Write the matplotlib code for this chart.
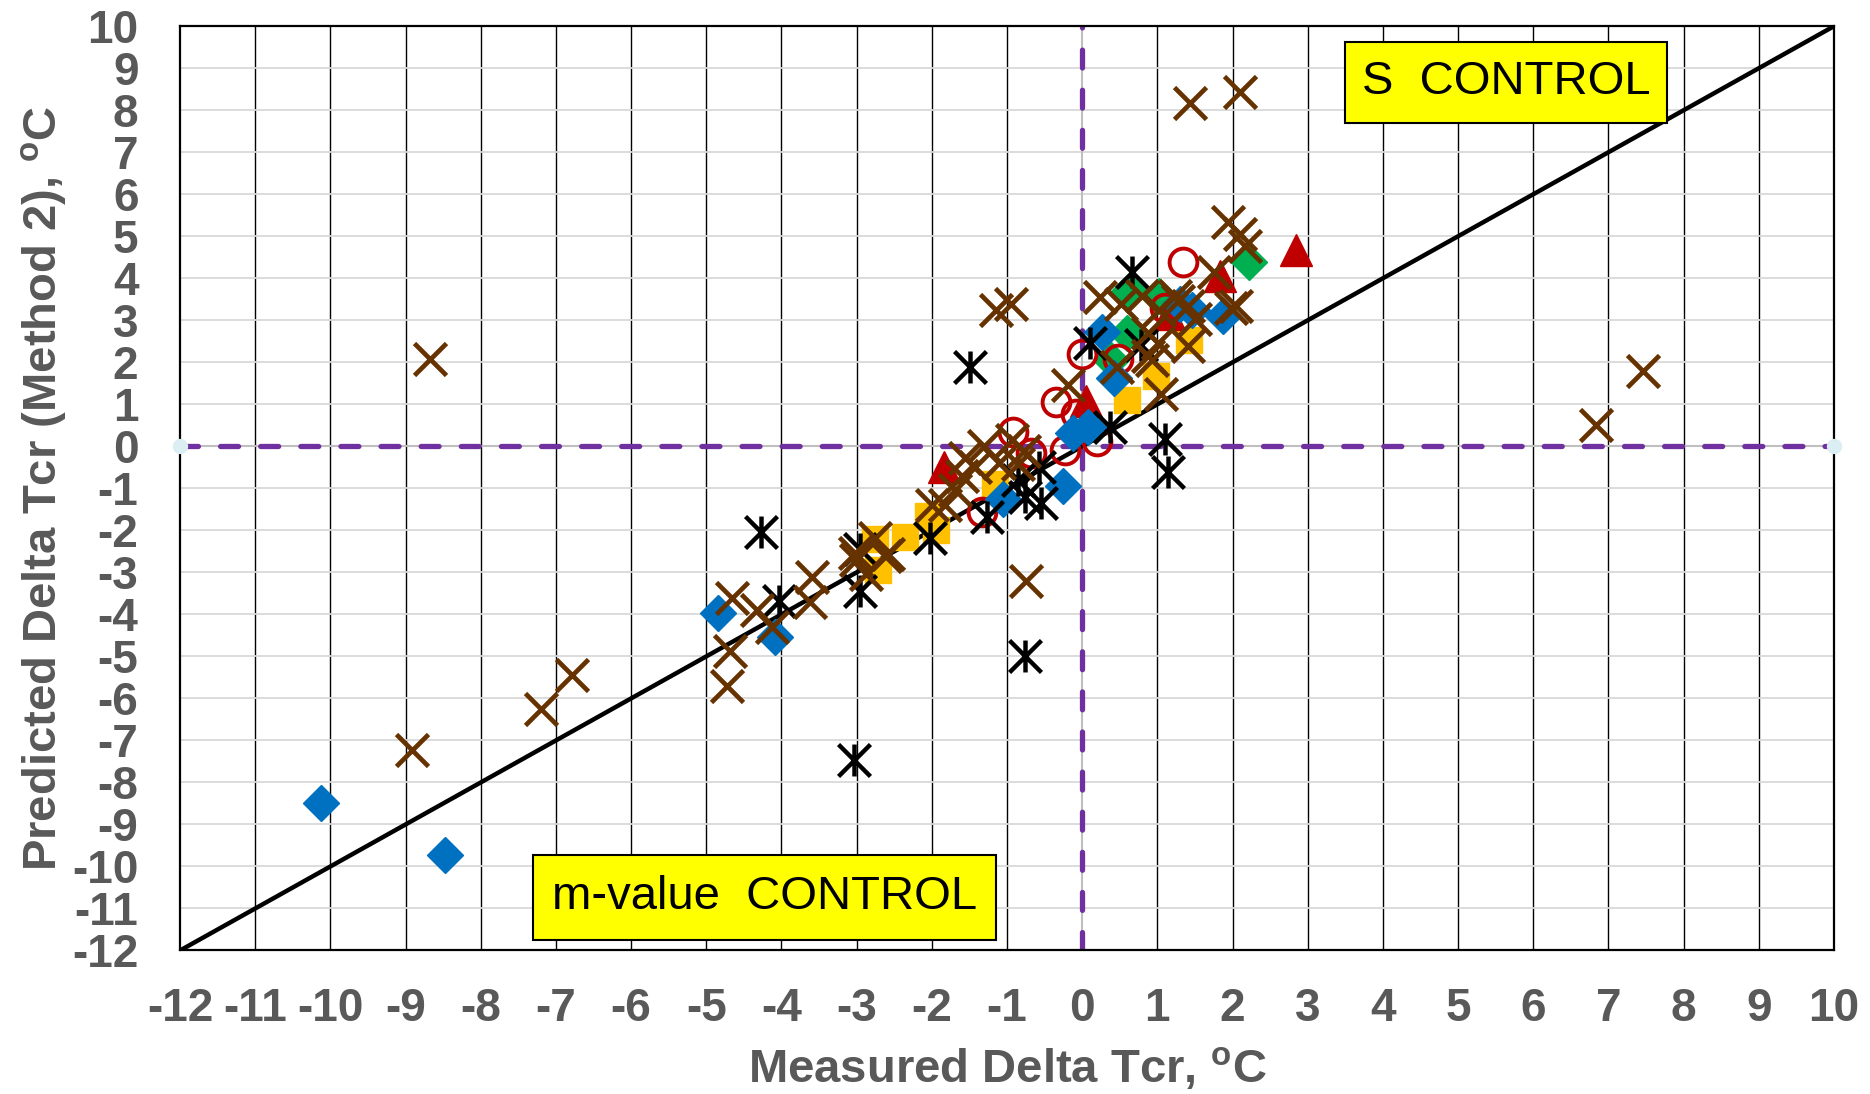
import numpy as np
import matplotlib.pyplot as plt
from matplotlib.path import Path
from matplotlib.patches import Rectangle

plt.rcParams['font.family'] = ['Liberation Sans', 'DejaVu Sans']
plt.rcParams['mathtext.default'] = 'regular'
plt.rcParams['axes.unicode_minus'] = False

# -- Data: measured vs predicted delta Tcr, one pair of lists per group --
blue_x = [-10.12, -8.47, -4.85, -4.09, -1.05, -0.25, -0.12, 0.08, 0.27, 0.43, 1.30, 1.46, 1.88]
blue_y = [-8.48, -9.72, -3.97, -4.55, -1.25, -0.95, 0.32, 0.46, 2.72, 1.63, 3.40, 3.25, 3.10]

yellow_x = [-2.75, -2.72, -2.36, -2.05, -1.94, -1.16, 0.60, 0.98, 1.42]
yellow_y = [-2.20, -2.95, -2.15, -1.65, -2.00, -0.90, 1.10, 1.68, 2.54]

green_x = [0.62, 0.60, 1.02, 2.22, 0.38]
green_y = [3.69, 2.70, 3.57, 4.40, 2.06]

tri_x = [-1.84, 0.05, 1.15, 1.84, 2.85]
tri_y = [-0.50, 1.08, 3.15, 4.05, 4.68]

circ_x = [-1.33, -0.92, -0.68, -0.23, 0.20, -0.35, -0.08, 0.00, 0.47, 1.10, 1.34]
circ_y = [-1.57, 0.34, -0.16, -0.08, 0.12, 1.05, 0.77, 2.20, 2.08, 3.30, 4.40]

star_x = [-4.27, -4.03, -2.95, -2.95, -3.03, -2.03, -1.26, -1.49, -0.76, -0.55,
          -0.58, -0.85, -0.76, 0.10, 0.37, 0.66, 1.10, 1.14, 0.78]
star_y = [-2.03, -3.68, -2.44, -3.45, -7.46, -2.17, -1.68, 1.88, -1.20, -1.35,
          -0.50, -0.80, -4.98, 2.46, 0.46, 4.15, 0.18, -0.60, 2.42]

cross_x = [-8.68, -8.92, -7.20, -6.78, -4.72, -4.68, -4.66, -4.33, -4.13, -3.60,
           -3.62, -3.02, -3.01, -2.75, -2.58, -2.87, -2.62, -2.00, -1.82, -1.69,
           -1.56, -1.43, -1.30, -0.94, -0.85, -1.10, -0.78, -1.60, -0.75, -1.15,
           -0.95, -0.19, 0.24, 0.52, 0.46, 1.01, 1.41, 1.05, 1.98, 1.75,
           1.94, 2.16, 2.10, 1.23, 1.41, 0.88, 0.88, 0.93, 1.02, 1.28,
           1.50, 0.80, 2.04, 1.43, 2.10, 6.83, 7.46]
cross_y = [2.07, -7.22, -6.26, -5.45, -5.70, -4.86, -3.62, -3.89, -4.30, -3.10,
           -3.70, -2.55, -2.70, -2.18, -2.56, -3.05, -2.62, -1.40, -1.40, -1.05,
           -0.28, -0.48, 0.00, 0.16, -0.42, -0.40, -0.10, -0.70, -3.20, 3.25,
           3.38, 1.47, 3.55, 3.40, 1.90, 2.46, 2.38, 1.25, 3.29, 4.15,
           5.35, 4.78, 5.05, 3.57, 3.33, 2.14, 2.70, 2.06, 3.25, 3.45,
           3.02, 3.57, 3.33, 8.18, 8.44, 0.52, 1.79]

x_ticks = list(range(-12, 11))
y_ticks = list(range(-12, 11))

# -- Figure --
fig = plt.figure(figsize=(18.7, 10.94), dpi=100)
ax = fig.add_axes([0.0963, 0.1312, 0.8844, 0.8448])
ax.set_xlim(-12, 10)
ax.set_ylim(-12, 10)

# grid: black verticals, light grey horizontals
for xv in x_ticks[1:-1]:
    if xv != 0:
        ax.axvline(xv, color='black', lw=1.0, zorder=1)
for yv in y_ticks[1:-1]:
    ax.axhline(yv, color='#D9D9D9', lw=1.3, zorder=1)

# zero reference lines (grey under purple dashes)
ax.axvline(0, color='#BFBFBF', lw=1.5, zorder=2)
ax.axhline(0, color='#BFBFBF', lw=1.5, zorder=2)
ax.plot([0, 0], [-12, 10], color='#7030A0', lw=3.8, dashes=(3.4, 4.2),
        dash_capstyle='round', zorder=2)
ax.plot([-12, 10], [0, 0], color='#7030A0', lw=3.8, dashes=(3.4, 4.2),
        dash_capstyle='round', zorder=2)
ax.plot([-12, 10], [0, 0], linestyle='none', marker='o', ms=10,
        color='#DAEEF3', clip_on=False, zorder=6)

# 1:1 line
ax.plot([-12, 10], [-12, 10], color='black', lw=3.2, zorder=3)

# asterisk marker: an X with a vertical bar
star = Path([(-1, -1), (1, 1), (-1, 1), (1, -1), (0, -1), (0, 1)],
            [Path.MOVETO, Path.LINETO] * 3)

ax.plot(yellow_x, yellow_y, 's', ms=19, color='#FFC000', mec='#FFC000', zorder=4)
ax.plot(green_x, green_y, 'D', ms=18.5, color='#00B050', mec='#00B050', zorder=4.1)
ax.plot(tri_x, tri_y, '^', ms=23, color='#C00000', mec='#C00000', zorder=4.2)
ax.plot(circ_x, circ_y, 'o', ms=20, mfc='none', mec='#C00000', mew=2.8, zorder=4.3)
ax.plot(blue_x, blue_y, 'D', ms=18.5, color='#0070C0', mec='#0070C0', zorder=4.4)
ax.plot(star_x, star_y, linestyle='none', marker=star, ms=23, mfc='none',
        mec='black', mew=3.2, zorder=4.5)
ax.plot(cross_x, cross_y, linestyle='none', marker='x', ms=23,
        mec='#663300', mew=3.4, zorder=4.6)

# -- Annotation boxes --
ax.add_patch(Rectangle((3.5, 7.7), 4.28, 1.93, facecolor='#FFFF00',
                       edgecolor='black', lw=1.5, zorder=7))
ax.text(5.64, 8.67, 'S  CONTROL', fontsize=34, ha='center', va='center', zorder=8)
ax.add_patch(Rectangle((-7.31, -11.74), 6.17, 2.01, facecolor='#FFFF00',
                       edgecolor='black', lw=1.5, zorder=7))
ax.text(-4.22, -10.73, 'm-value  CONTROL', fontsize=34, ha='center', va='center',
        zorder=8)

# -- Axes and labels --
for s in ax.spines.values():
    s.set_linewidth(1.6)
    s.set_zorder(5)
ax.set_xticks(x_ticks)
ax.set_yticks(y_ticks)
ax.tick_params(length=0, labelsize=33, labelcolor='#595959')
ax.tick_params(axis='x', pad=26)
ax.tick_params(axis='y', pad=30)
for lab in ax.get_xticklabels() + ax.get_yticklabels():
    lab.set_fontweight('bold')

ax.set_xlabel('Measured Delta Tcr, $^{o}$C', fontsize=34, fontweight='bold',
              color='#595959', labelpad=11)
ax.set_ylabel('Predicted Delta Tcr (Method 2), $^{o}$C', fontsize=34,
              fontweight='bold', color='#595959', labelpad=2)

fig.savefig('out.png', dpi=100)
